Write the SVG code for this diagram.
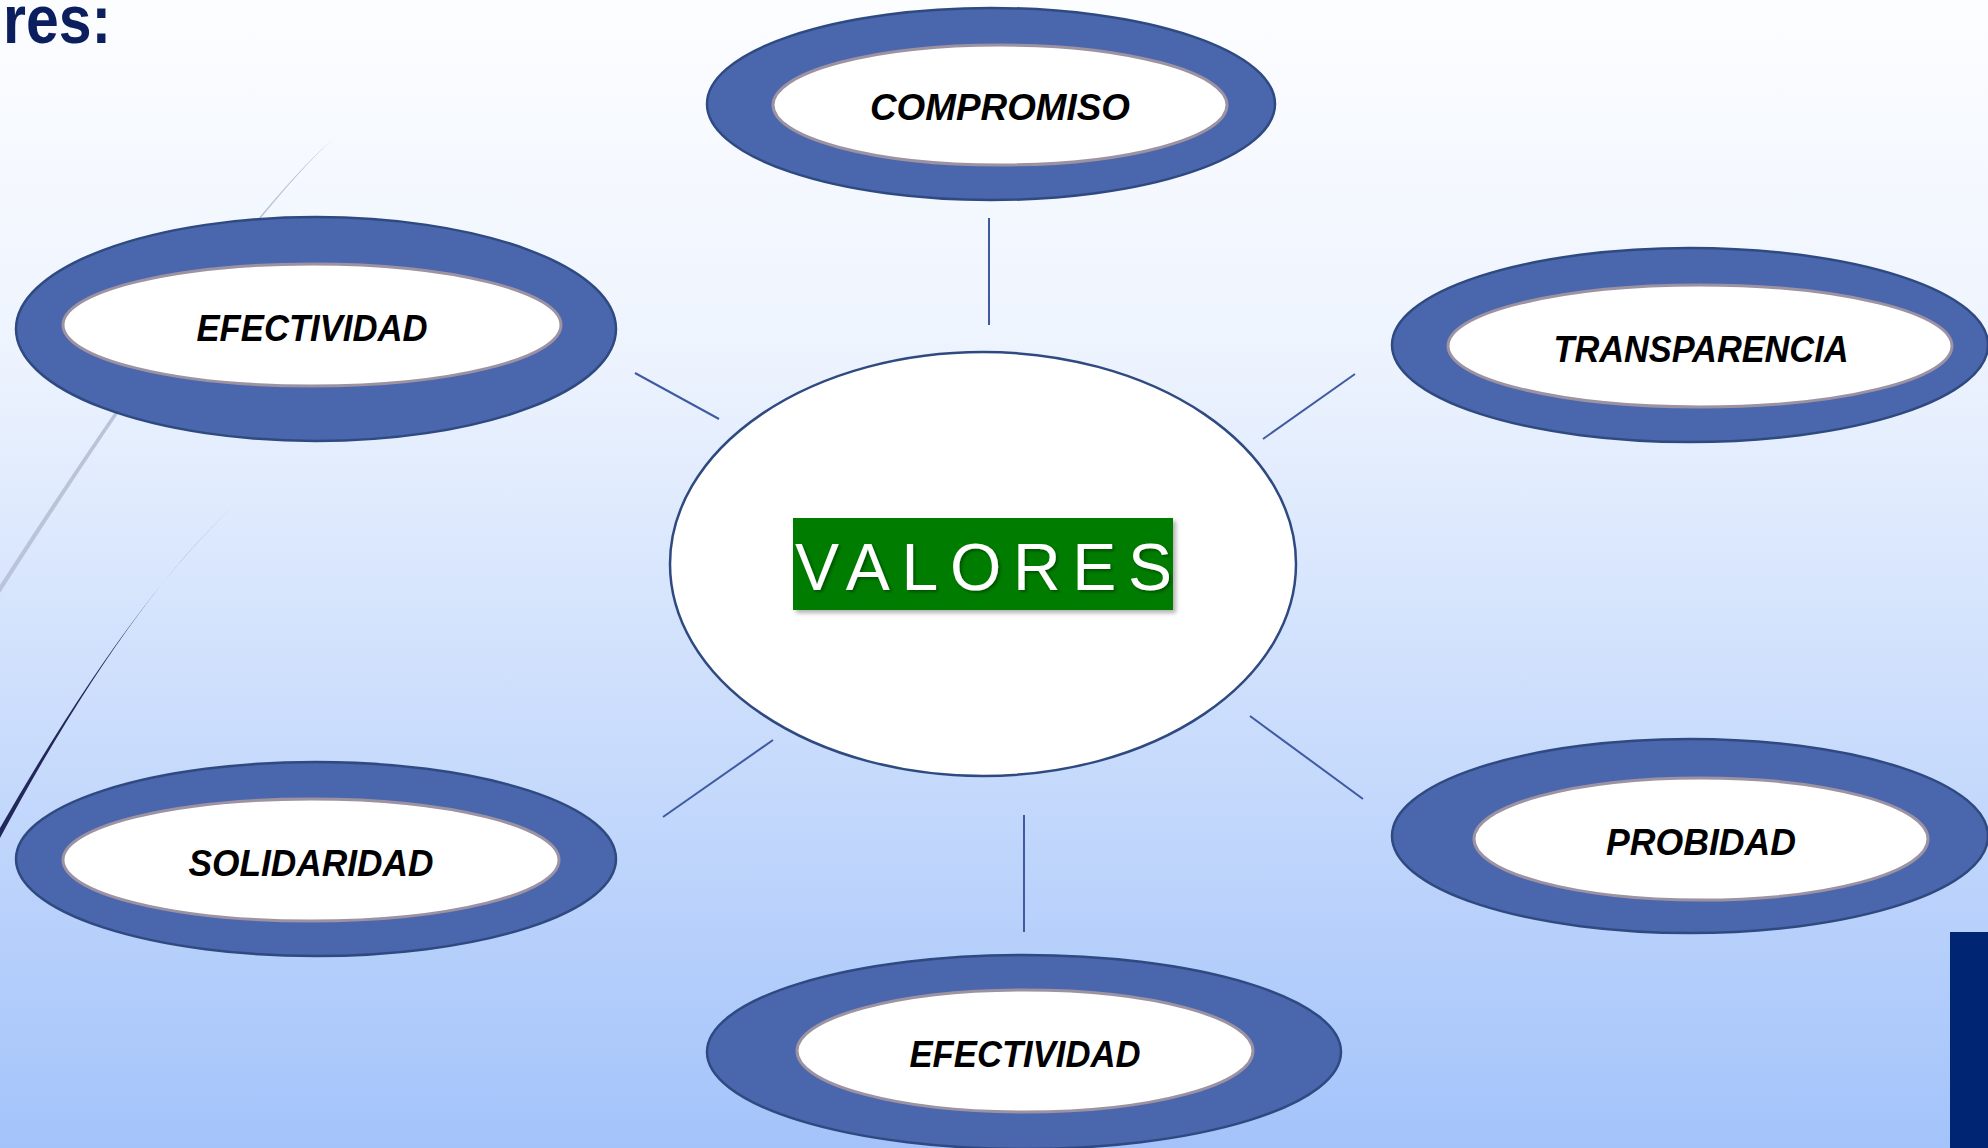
<svg xmlns="http://www.w3.org/2000/svg" width="1988" height="1148" viewBox="0 0 1988 1148">
<defs>
<linearGradient id="bg" x1="0" y1="0" x2="0" y2="1">
<stop offset="0" stop-color="#FCFDFF"/>
<stop offset="0.3" stop-color="#EEF4FE"/>
<stop offset="1" stop-color="#A3C3FA"/>
</linearGradient>
<filter id="sh" x="-10%" y="-10%" width="130%" height="140%">
<feDropShadow dx="3" dy="3" stdDeviation="2" flood-color="#000" flood-opacity="0.3"/>
</filter>
<filter id="tsh" x="-5%" y="-5%" width="115%" height="120%">
<feDropShadow dx="2" dy="2" stdDeviation="1.5" flood-color="#000" flood-opacity="0.35"/>
</filter>
</defs>
<style>
.outer{fill:#4A66AD;stroke:#2F4A80;stroke-width:2.5}
.inner{fill:#FFFFFF;stroke:#9D92A2;stroke-width:3}
.lbl{font-family:"Liberation Sans",Arial,sans-serif;font-weight:bold;font-style:italic;font-size:36px;fill:#000}
.conn{stroke:#3F5AA0;stroke-width:2;fill:none}
</style>
<rect x="0" y="0" width="1988" height="1148" fill="url(#bg)"/>
<text x="3" y="43" font-family="'Liberation Sans',Arial,sans-serif" font-weight="bold" font-size="68" fill="#0B1F5E" textLength="108" lengthAdjust="spacingAndGlyphs">res:</text>
<g id="decor">
<path d="M333,139 Q231,232 0,593 L0,585 Q229,230 333,139 Z" fill="#BAC4D9"/>
<path d="M235,505 Q125,605 0,838 L0,828 Q131,600 235,505 Z" fill="#22285A"/>
</g>
<rect x="1950" y="932" width="38" height="216" fill="#002673"/>
<g id="connectors">
<line class="conn" x1="989" y1="218" x2="989" y2="325"/>
<line class="conn" x1="635" y1="373" x2="719" y2="419"/>
<line class="conn" x1="1355" y1="374" x2="1263" y2="439"/>
<line class="conn" x1="1250" y1="716" x2="1363" y2="799"/>
<line class="conn" x1="1024" y1="815" x2="1024" y2="932"/>
<line class="conn" x1="773" y1="740" x2="663" y2="817"/>
</g>
<g id="valores">
<ellipse cx="983" cy="564" rx="313" ry="212" fill="#FFFFFF" stroke="#2F4A80" stroke-width="2.5"/>
<rect x="793" y="518" width="380" height="92" fill="#017B01" filter="url(#sh)"/>
<text x="795" y="590" font-family="'Liberation Sans',Arial,sans-serif" font-size="66" fill="#FFFFFF" textLength="377" lengthAdjust="spacing" filter="url(#tsh)">VALORES</text>
</g>
<g id="compromiso">
<ellipse class="outer" cx="991" cy="104" rx="284" ry="96"/>
<ellipse class="inner" cx="1000" cy="105" rx="227" ry="60"/>
<text class="lbl" x="1000" y="120" text-anchor="middle" textLength="260" lengthAdjust="spacingAndGlyphs">COMPROMISO</text>
</g>
<g id="efectividad1">
<ellipse class="outer" cx="316" cy="329" rx="300" ry="112"/>
<ellipse class="inner" cx="312" cy="325" rx="249" ry="61"/>
<text class="lbl" x="312" y="341" text-anchor="middle" textLength="231" lengthAdjust="spacingAndGlyphs">EFECTIVIDAD</text>
</g>
<g id="transparencia">
<ellipse class="outer" cx="1690" cy="345" rx="298" ry="97"/>
<ellipse class="inner" cx="1700" cy="346" rx="252" ry="61"/>
<text class="lbl" x="1701" y="362" text-anchor="middle" textLength="295" lengthAdjust="spacingAndGlyphs">TRANSPARENCIA</text>
</g>
<g id="probidad">
<ellipse class="outer" cx="1690" cy="836" rx="298" ry="97"/>
<ellipse class="inner" cx="1701" cy="839" rx="227" ry="61"/>
<text class="lbl" x="1701" y="855" text-anchor="middle" textLength="190" lengthAdjust="spacingAndGlyphs">PROBIDAD</text>
</g>
<g id="solidaridad">
<ellipse class="outer" cx="316" cy="859" rx="300" ry="97"/>
<ellipse class="inner" cx="311" cy="860" rx="248" ry="61"/>
<text class="lbl" x="311" y="876" text-anchor="middle" textLength="245" lengthAdjust="spacingAndGlyphs">SOLIDARIDAD</text>
</g>
<g id="efectividad2">
<ellipse class="outer" cx="1024" cy="1052" rx="317" ry="97"/>
<ellipse class="inner" cx="1025" cy="1051" rx="228" ry="61"/>
<text class="lbl" x="1025" y="1067" text-anchor="middle" textLength="231" lengthAdjust="spacingAndGlyphs">EFECTIVIDAD</text>
</g>
</svg>
